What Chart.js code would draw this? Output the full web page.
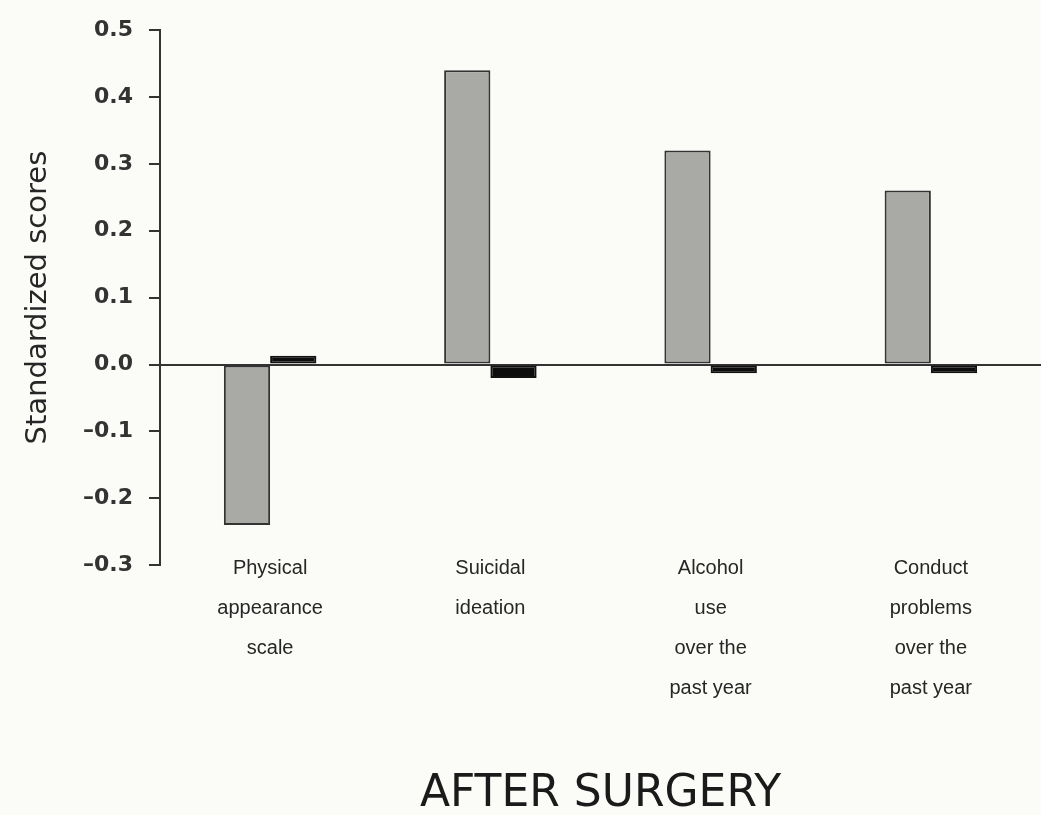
<!DOCTYPE html>
<html>
<head>
<meta charset="utf-8">
<script src="https://cdn.jsdelivr.net/npm/chart.js@4.4.1/dist/chart.umd.min.js"></script>
<style>
  html, body { margin: 0; padding: 0; background: #fbfbf8; }
  #wrap { width: 1041px; height: 815px; position: relative; }
</style>
</head>
<body>
<div id="wrap"><canvas id="chart"></canvas></div>
<script>
const categories = [
  ["Physical", "appearance", "scale"],
  ["Suicidal", "ideation"],
  ["Alcohol", "use", "over the", "past year"],
  ["Conduct", "problems", "over the", "past year"],
];
const graySeries = [-0.24, 0.44, 0.32, 0.26];
const blackSeries = [0.013, -0.02, -0.013, -0.013];
const yMin = -0.3;
const yMax = 0.5;
const yStep = 0.1;
const yTitle = "Standardized scores";
const chartTitle = "AFTER SURGERY";

const ink = "#262626";

const ctx = document.getElementById("chart").getContext("2d");
new Chart(ctx, {
  type: "bar",
  data: {
    labels: categories,
    datasets: [
      {
        label: "Gray",
        data: graySeries,
        backgroundColor: "#a9a9a5",
        borderColor: "#333",
        borderWidth: 2,
        borderSkipped: false,
      },
      {
        label: "Black",
        data: blackSeries,
        backgroundColor: "#0d0d0d",
        borderColor: "#111",
        borderWidth: 2,
        borderSkipped: false,
      },
    ],
  },
  options: {
    responsive: true,
    maintainAspectRatio: false,
    animation: false,
    datasets: { bar: { categoryPercentage: 0.42, barPercentage: 1 } },
    layout: { padding: { top: 30, left: 0, right: 0, bottom: 0 } },
    plugins: {
      legend: { display: false },
      tooltip: { enabled: false },
      title: {
        display: true,
        text: chartTitle,
        position: "bottom",
        fullSize: false,
        color: "#1a1a1a",
        font: { family: "DejaVu Sans", size: 44, weight: "normal", lineHeight: 1.2 },
        padding: { top: 60, bottom: -6 },
      },
    },
    scales: {
      x: {
        type: "category",
        position: "bottom",
        grid: { display: false, drawTicks: false },
        border: { display: false },
        afterFit: (scale) => {
          scale.height = 143;
          // labels sit slightly above the axis box, so don't clip them
          scale._computeLabelArea = () => undefined;
        },
        ticks: {
          color: ink,
          padding: -17,
          maxRotation: 0,
          autoSkip: false,
          font: { family: "Liberation Sans", size: 20, lineHeight: 2 },
        },
      },
      zero: {
        type: "category",
        axis: "x",
        position: { y: 0 },
        grid: { display: false, drawTicks: false },
        border: { display: true, color: "#333", width: 2 },
        ticks: { display: false },
      },
      y: {
        min: yMin,
        max: yMax,
        afterFit: (scale) => {
          scale.width = 160;
        },
        grid: {
          display: true,
          drawOnChartArea: false,
          drawTicks: true,
          tickLength: 11,
          color: "#333",
          lineWidth: 2,
        },
        border: { display: true, color: "#333", width: 2 },
        ticks: {
          stepSize: yStep,
          color: "#333",
          padding: 16,
          font: { family: "DejaVu Sans", size: 22, weight: "bold" },
          callback: (v) => Number(v).toFixed(1).replace("-", "\u2013"),
        },
        title: {
          display: true,
          text: yTitle,
          color: ink,
          font: { family: "DejaVu Sans", size: 29, lineHeight: 1.2 },
          padding: { top: 21, bottom: 0 },
        },
      },
    },
  },
});
</script>
</body>
</html>
